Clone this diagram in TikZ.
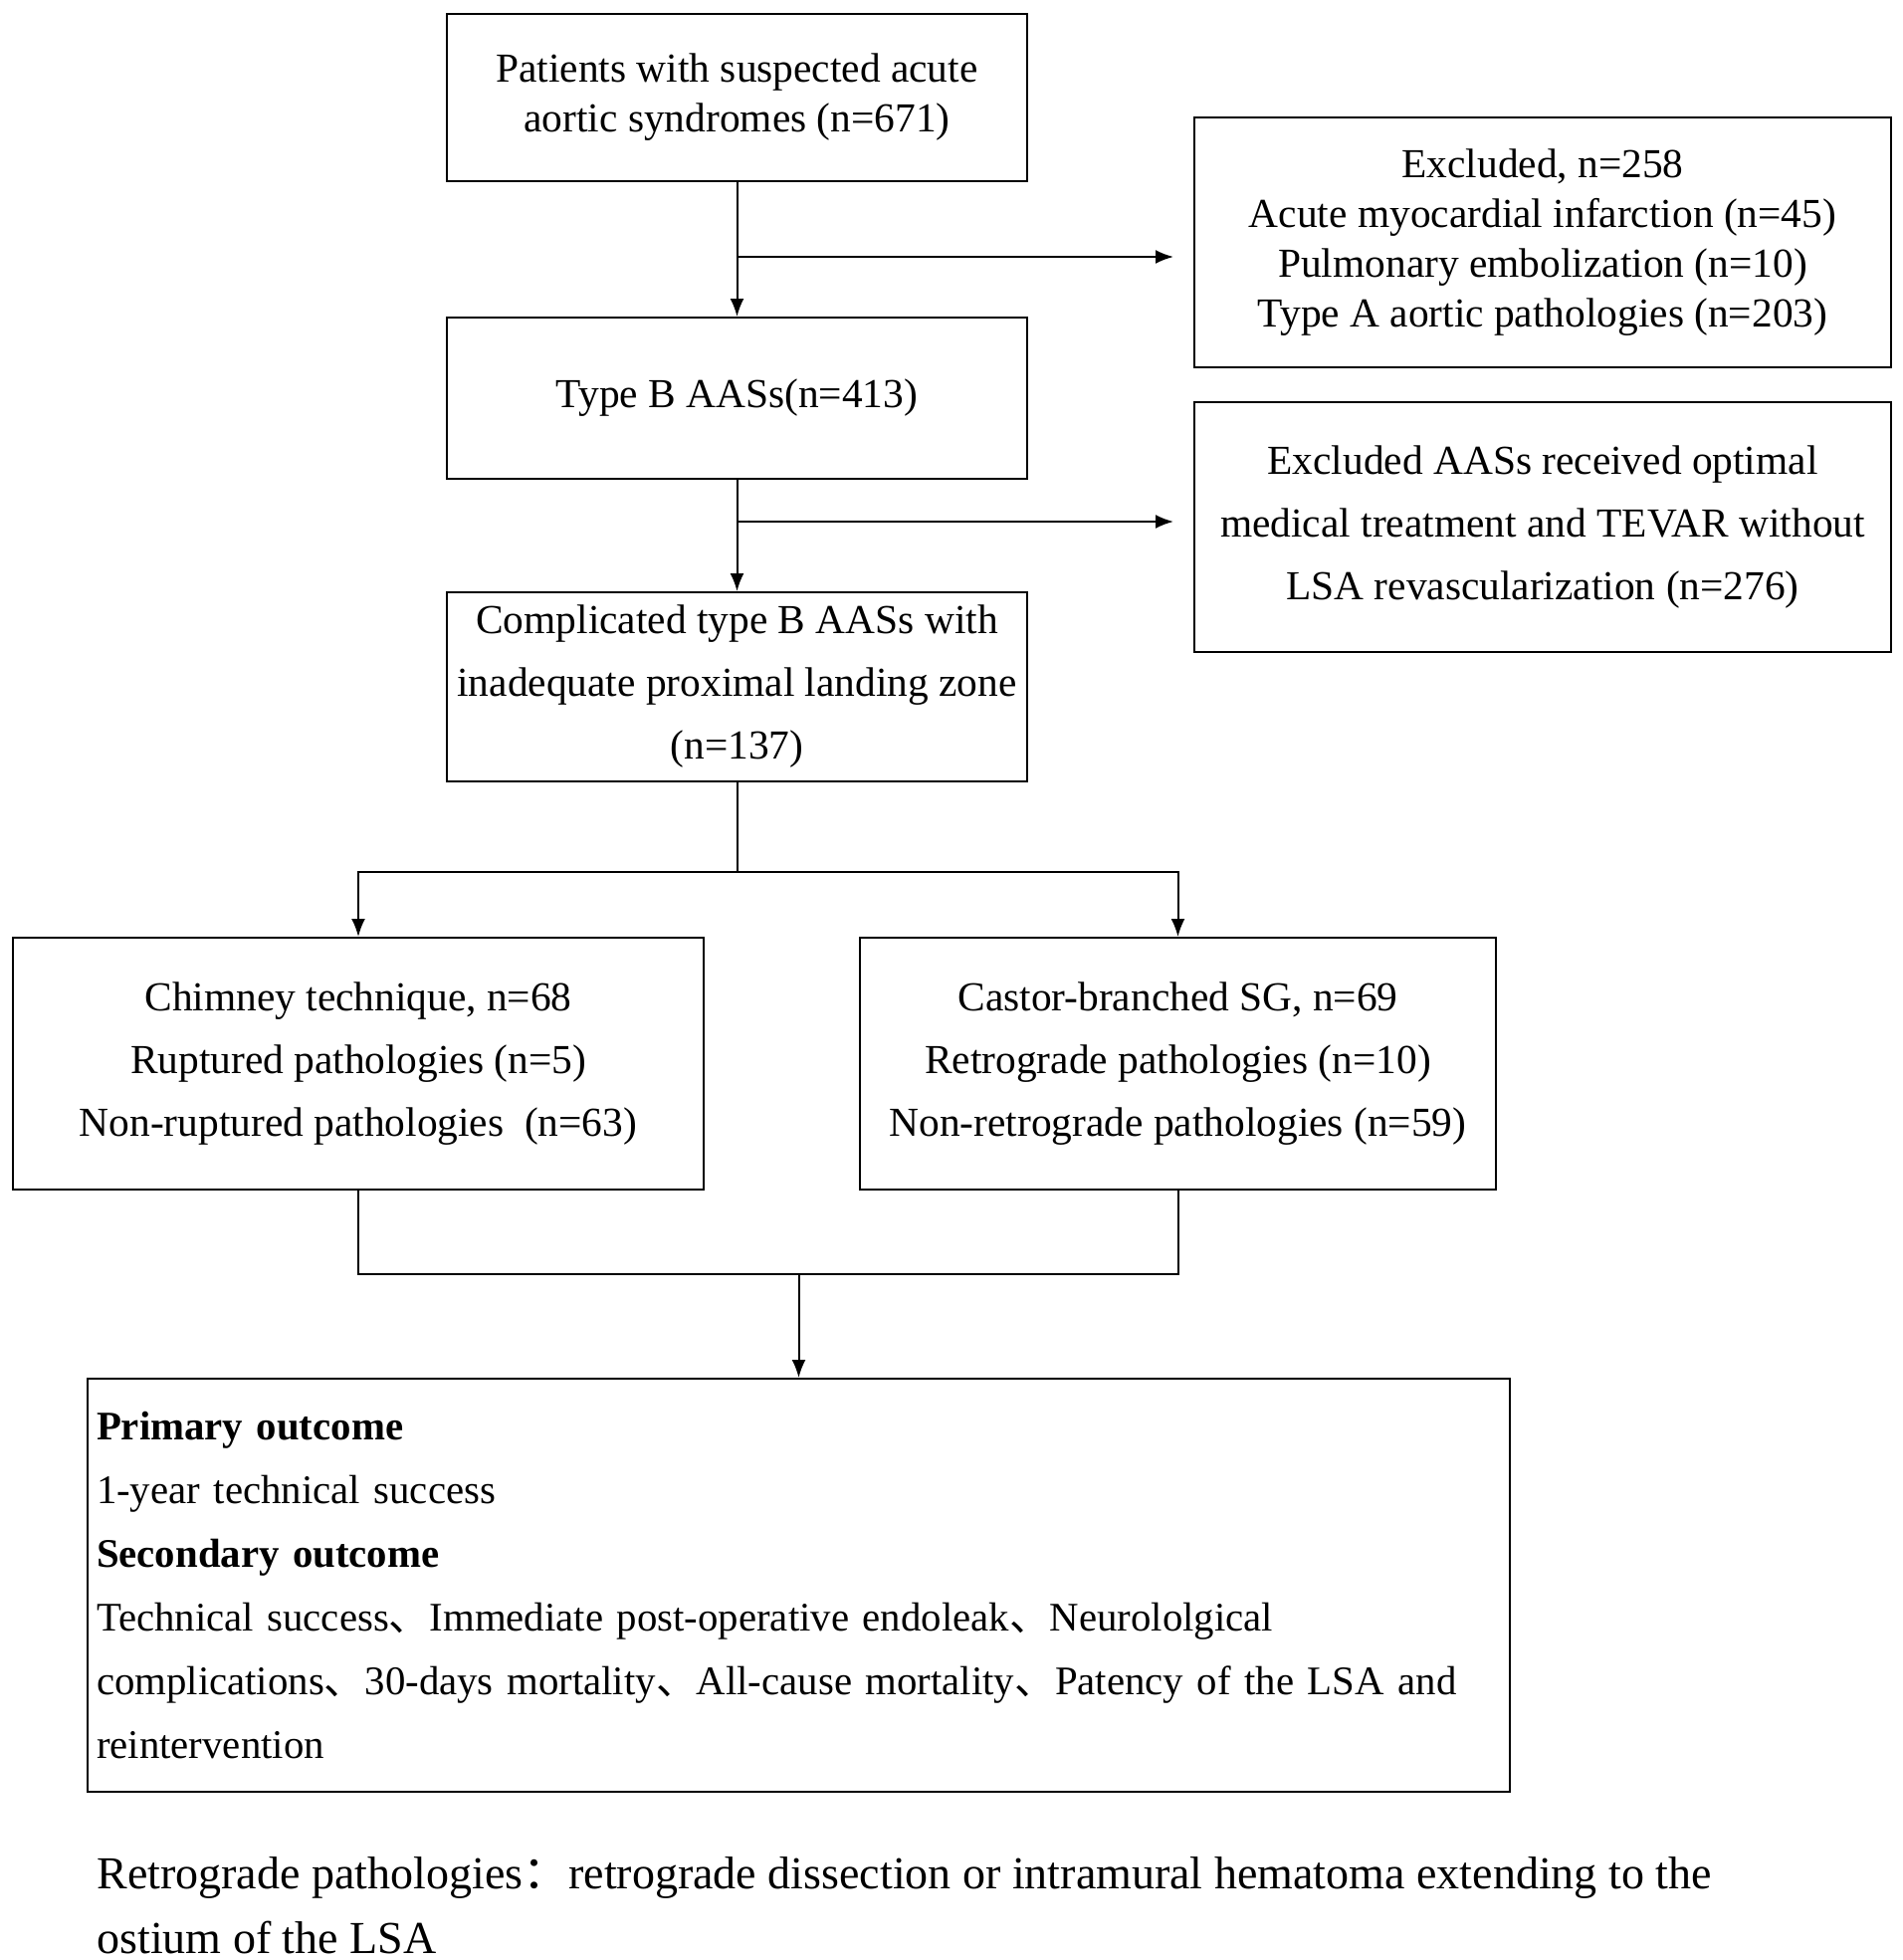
\documentclass[tikz,border=0pt]{standalone}
\usepackage{fontspec}
\setmainfont{Liberation Serif}
\newfontfamily\cjkfont{Noto Sans CJK SC}
\usetikzlibrary{arrows.meta}
\newcommand{\dun}{{\cjkfont 、}}
\tikzstyle{box} = [draw, line width=1pt, align=center, inner sep=0pt, font=\fontsize{20.7}{25}\selectfont]
\tikzstyle{stage} = [box, minimum width=291.5pt]
\tikzstyle{excl} = [box, minimum width=350pt, minimum height=125.5pt]
\tikzstyle{arm} = [box, minimum height=126.5pt, font=\fontsize{20.7}{31.5}\selectfont]
\tikzstyle{outcome} = [box, minimum width=714.5pt, minimum height=207.5pt, inner xsep=4.5pt, text width=705.5pt, align=left, font=\fontsize{20.4}{32}\selectfont]
\tikzstyle{note} = [anchor=west, align=left, inner sep=0pt, font=\fontsize{23}{32.5}\selectfont]
\tikzstyle{line} = [draw, line width=1pt, -{Latex[length=9pt, width=7pt]}]
\tikzstyle{wire} = [draw, line width=1pt]
\newcommand{\stage}[3]{
node (b#1) [stage, #2] {#3}}
\newcommand{\excl}[3]{
node (e#1) [excl, #2] {#3}}
\newcommand{\arm}[3]{
node (c#1) [arm, minimum width=#2] {#3}}

\begin{document}
\begin{tikzpicture}[x=0.5pt, y=0.5pt]
		\useasboundingbox (0,0) rectangle (1911,-1969);

		% Draw diagram elements
		\path (740.5,-98) \stage{1}{minimum height=84pt}{Patients with suspected acute\\aortic syndromes (n=671)};
		\path (b1.south)+(0,-217) \stage{2}{minimum height=81pt}{Type B AASs(n=413)};
		\path (b2.south)+(0,-208) \stage{3}{minimum height=95pt, font=\fontsize{20.7}{31.5}\selectfont}{Complicated type B AASs with\\inadequate proximal landing zone\\(n=137)};
		\path (b1.south)+(809.5,-60.5) \excl{1}{}{Excluded, n=258\\Acute myocardial infarction (n=45)\\Pulmonary embolization (n=10)\\Type A aortic pathologies (n=203)};
		\path (e1.south)+(0,-159.5) \excl{2}{font=\fontsize{20.7}{31.5}\selectfont}{Excluded AASs received optimal\\medical treatment and TEVAR without\\LSA revascularization (n=276)};
		\path (b3.south)+(-380.5,-282.5) \arm{1}{347pt}{Chimney technique, n=68\\Ruptured pathologies (n=5)\\Non-ruptured pathologies~ (n=63)};
		\path (b3.south)+(443,-282.5) \arm{2}{319.5pt}{Castor-branched SG, n=69\\Retrograde pathologies (n=10)\\Non-retrograde pathologies (n=59)};
		\path (c1.south)+(442.5,-396.5) node (out) [outcome] {\textbf{Primary outcome}\\1-year technical success\\\textbf{Secondary outcome}\\Technical success\dun Immediate post-operative endoleak\dun Neurololgical\\complications\dun 30-days mortality\dun All-cause mortality\dun Patency of the LSA and\\reintervention};
		\path (out.south)+(-705.5,-113.5) node (fn) [note] {Retrograde pathologies{\cjkfont ：}retrograde dissection or intramural hematoma extending to the\\ostium of the LSA};

		% Junction points
		\path (b1.south)+(0,-75) coordinate (j1);
		\path (b2.south)+(0,-42) coordinate (j2);
		\path (b3.south)+(0,-90) coordinate (j3);
		\path (c1.south)+(0,-84) coordinate (j4);

		% Draw arrows between elements
		\path [line] (b1) -- (b2);
		\path [line, shorten >=10pt] (j1) -- (j1 -| e1.west);
		\path [line] (b2) -- (b3);
		\path [line, shorten >=10pt] (j2) -- (j2 -| e2.west);
		\path [wire] (b3) -- (j3);
		\path [line] (j3) -| (c1.north);
		\path [line] (j3) -| (c2.north);
		\path [wire] (c1.south) -- (j4) -| (c2.south);
		\path [line] (j4 -| out.north) -- (out.north);

\end{tikzpicture}
\end{document}
